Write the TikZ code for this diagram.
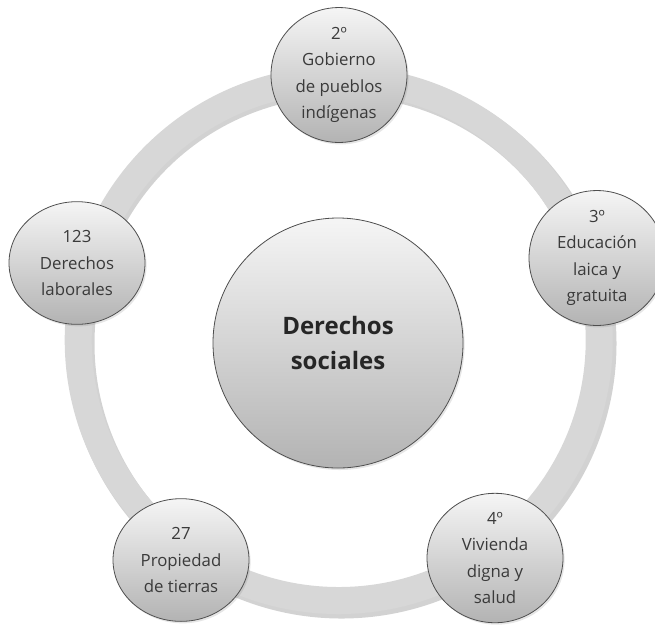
\documentclass[tikz,border=0pt]{standalone}
\usepackage{fontspec}
\setmainfont{Open Sans}
\usetikzlibrary{shapes.geometric,shadows}
\definecolor{ringgray}{HTML}{D7D7D7}
\definecolor{ringshade}{HTML}{9C9C9C}
\definecolor{balltop}{HTML}{F5F5F5}
\definecolor{ballbottom}{HTML}{B3B3B3}
\definecolor{balledge}{HTML}{4E4E4E}
\definecolor{labelgray}{HTML}{3A3A3A}

\tikzset{
  ball/.style={ellipse, draw=balledge, line width=0.6pt,
    top color=balltop, bottom color=ballbottom,
    drop shadow={opacity=0.2, shadow xshift=1.2pt, shadow yshift=-1.5pt},
    minimum width=102pt, minimum height=92pt, inner sep=0pt,
    align=center, text=labelgray, font=\fontsize{12.6}{19.8}\selectfont},
  hub/.style={ball, circle, minimum size=187.5pt,
    text=black!85, font=\fontsize{18}{26.5}\selectfont\bfseries}
}

\begin{document}
\begin{tikzpicture}[x=0.75pt, y=-0.75pt]
  \useasboundingbox (0,0) rectangle (655,626);

  % ---------- ring ----------
  \fill[ringshade, opacity=0.45, even odd rule] (341.5,343.5) circle (275) circle (247);
  \fill[ringgray, even odd rule] (338.7,340) circle (274) circle (247);

  % ---------- centre ----------
  \node[hub] (social) at (338,343) {Derechos\\sociales};

  % ---------- articles round the ring ----------
  \node[ball] (gob) at (339,75)  {2º\\Gobierno\\de pueblos\\indígenas};
  \node[ball] (edu) at (597,258) {3º\\Educación\\laica y\\gratuita};
  \node[ball] (viv) at (495,558) {4º\\Vivienda\\digna y\\salud};
  \node[ball] (tie) at (181,560) {27\\Propiedad\\de tierras};
  \node[ball] (lab) at (77,263)  {123\\Derechos\\laborales};
\end{tikzpicture}
\end{document}
